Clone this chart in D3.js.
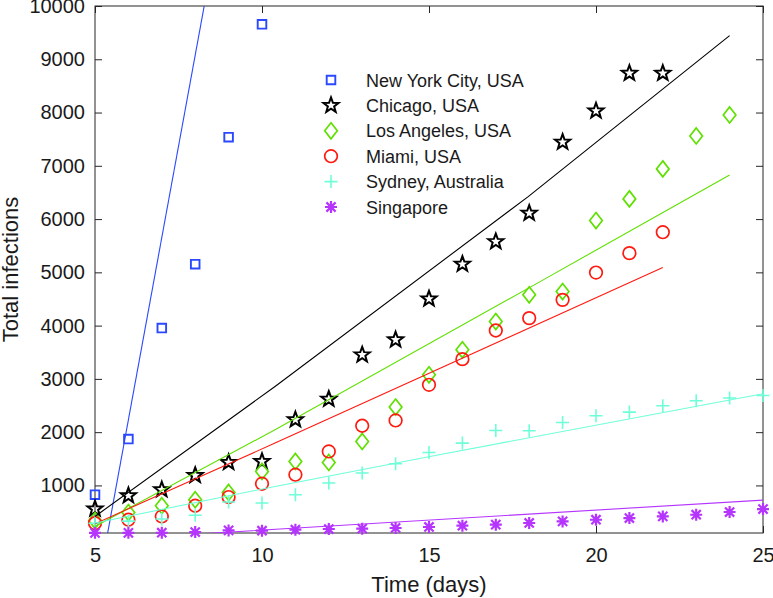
<!DOCTYPE html>
<html>
<head>
<meta charset="utf-8">
<script src="https://cdn.jsdelivr.net/npm/d3@7"></script>
<style>
  html, body { margin: 0; padding: 0; background: #fff; }
  svg { display: block; font-family: "Liberation Sans", Arial, sans-serif; }
</style>
</head>
<body>
<svg id="chart" width="773" height="598"></svg>
<script>
// ---------- data ----------
const seriesNames = ["New York City, USA", "Chicago, USA", "Los Angeles, USA", "Miami, USA", "Sydney, Australia", "Singapore"];

const nycDays = [5, 6, 7, 8, 9, 10];
const nycVals = [826, 1871, 3953, 5154, 7537, 9656];

const chiDays = [5, 6, 7, 8, 9, 10, 11, 12, 13, 14, 15, 16, 17, 18, 19, 20, 21, 22];
const chiVals = [560, 807, 919, 1188, 1432, 1450, 2233, 2621, 3452, 3734, 4503, 5154, 5578, 6111, 7443, 8030, 8737, 8737];

const laDays = [5, 6, 7, 8, 9, 10, 11, 12, 13, 14, 15, 16, 17, 18, 19, 20, 21, 22, 23, 24];
const laVals = [340, 490, 619, 732, 869, 1263, 1450, 1432, 1826, 2471, 3077, 3546, 4077, 4578, 4640, 5972, 6379, 6942, 7561, 7955];

const miaDays = [5, 6, 7, 8, 9, 10, 11, 12, 13, 14, 15, 16, 17, 18, 19, 20, 21, 22];
const miaVals = [290, 357, 418, 619, 782, 1032, 1201, 1638, 2120, 2220, 2889, 3371, 3908, 4141, 4484, 4996, 5360, 5754];

const sydDays = [5, 6, 7, 8, 9, 10, 11, 12, 13, 14, 15, 16, 17, 18, 19, 20, 21, 22, 23, 24, 25];
const sydVals = [290, 330, 370, 440, 690, 670, 826, 1045, 1233, 1407, 1619, 1795, 2032, 2026, 2182, 2308, 2377, 2495, 2589, 2640, 2689];

const sgpDays = [5, 6, 7, 8, 9, 10, 11, 12, 13, 14, 15, 16, 17, 18, 19, 20, 21, 22, 23, 24, 25];
const sgpVals = [110, 110, 112, 125, 156, 150, 169, 182, 188, 201, 220, 244, 263, 295, 325, 356, 388, 419, 450, 501, 557];

// fitted trend lines: [day, value] points
const nycFit = [[5, -1190], [9, 12500]];
const chiFit = [[5, 418], [10.39, 2857], [17.97, 6422], [24, 9443]];
const laFit  = [[5, 231], [10.39, 2045], [18.42, 4859], [24, 6829]];
const miaFit = [[5, 281], [10.39, 1795], [22, 5090]];
const sydFit = [[5, 295], [10.39, 981], [15.03, 1544], [25, 2720]];
const sgpFit = [[5, -30], [10.54, 182], [25, 725]];

const xTicks = [5, 10, 15, 20, 25];
const yTicks = [1000, 2000, 3000, 4000, 5000, 6000, 7000, 8000, 9000, 10000];
const xDomain = [5, 25];
const yDomain = [107, 10000];

const colors = ["#2a48ff", "#000000", "#5ee000", "#ff1a10", "#6effd8", "#b535ff"];
const markers = ["square", "star", "diamond", "circle", "plus", "asterisk"];

// ---------- layout ----------
const svg = d3.select("#chart");
const L = 95, R = 763, T = 6, B = 533;
const x = d3.scaleLinear().domain(xDomain).range([L, R]);
const y = d3.scaleLinear().domain(yDomain).range([B, T]);

function markerPath(type) {
  const p = d3.path();
  if (type === "square") {
    p.rect(-4.3, -4.3, 8.6, 8.6);
  } else if (type === "circle") {
    p.moveTo(6.3, 0); p.arc(0, 0, 6.3, 0, 2 * Math.PI); p.closePath();
  } else if (type === "diamond") {
    p.moveTo(0, -8); p.lineTo(6.3, 0); p.lineTo(0, 8); p.lineTo(-6.3, 0); p.closePath();
  } else if (type === "star") {
    const ro = 8, ri = 3.3;
    for (let i = 0; i < 10; i++) {
      const r = i % 2 === 0 ? ro : ri;
      const a = -Math.PI / 2 + i * Math.PI / 5;
      const px = r * Math.cos(a), py = r * Math.sin(a);
      if (i === 0) p.moveTo(px, py); else p.lineTo(px, py);
    }
    p.closePath();
  } else if (type === "plus") {
    p.moveTo(-6.5, 0); p.lineTo(6.5, 0); p.moveTo(0, -6.5); p.lineTo(0, 6.5);
  } else if (type === "asterisk") {
    const s = 6, d = 4.6;
    p.moveTo(-s, 0); p.lineTo(s, 0); p.moveTo(0, -s); p.lineTo(0, s);
    p.moveTo(-d, -d); p.lineTo(d, d); p.moveTo(-d, d); p.lineTo(d, -d);
  }
  return p.toString();
}
const markerStroke = { square: 1.9, circle: 1.7, diamond: 1.7, star: 2.0, plus: 1.6, asterisk: 2.2 };

// clip for fit lines
svg.append("defs").append("clipPath").attr("id", "plotclip")
  .append("rect").attr("x", L).attr("y", T).attr("width", R - L).attr("height", B - T);

// axes box
const axisColor = "#262626";
svg.append("rect").attr("x", L).attr("y", T).attr("width", R - L).attr("height", B - T)
  .attr("fill", "none").attr("stroke", axisColor).attr("stroke-width", 1);

// axes with inward ticks
const tickLen = 7;
const fontTick = 20;
const fmt = d3.format("d");
const gx = svg.append("g").attr("transform", `translate(0,${B})`)
  .call(d3.axisBottom(x).tickValues(xTicks).tickFormat(fmt).tickSizeInner(-tickLen).tickSizeOuter(0).tickPadding(tickLen + 8));
const gxTop = svg.append("g").attr("transform", `translate(0,${T})`)
  .call(d3.axisTop(x).tickValues(xTicks).tickSizeInner(-tickLen).tickSizeOuter(0).tickFormat(""));
const gy = svg.append("g").attr("transform", `translate(${L},0)`)
  .call(d3.axisLeft(y).tickValues(yTicks).tickFormat(fmt).tickSizeInner(-tickLen).tickSizeOuter(0).tickPadding(tickLen + 3));
const gyRight = svg.append("g").attr("transform", `translate(${R},0)`)
  .call(d3.axisRight(y).tickValues(yTicks).tickSizeInner(-tickLen).tickSizeOuter(0).tickFormat(""));
[gx, gxTop, gy, gyRight].forEach(g => {
  g.select(".domain").remove();
  g.selectAll(".tick line").attr("stroke", axisColor);
  g.selectAll(".tick text").attr("fill", "#1a1a1a").attr("font-size", fontTick)
    .attr("font-family", "Liberation Sans, Arial, sans-serif");
});

// axis labels
svg.append("text").attr("x", (L + R) / 2).attr("y", 592).attr("text-anchor", "middle")
  .attr("font-size", 22).attr("fill", "#1a1a1a").text("Time (days)");
svg.append("text").attr("transform", `translate(18,${(T + B) / 2}) rotate(-90)`)
  .attr("text-anchor", "middle").attr("font-size", 22).attr("fill", "#1a1a1a").text("Total infections");

// series
const series = [
  { days: nycDays, vals: nycVals, fit: nycFit },
  { days: chiDays, vals: chiVals, fit: chiFit },
  { days: laDays, vals: laVals, fit: laFit },
  { days: miaDays, vals: miaVals, fit: miaFit },
  { days: sydDays, vals: sydVals, fit: sydFit },
  { days: sgpDays, vals: sgpVals, fit: sgpFit }
];

const line = d3.line().x(d => x(d[0])).y(d => y(d[1]));

const plotG = svg.append("g");
series.forEach((s, i) => {
  const m = markers[i];
  plotG.append("g").selectAll("path")
    .data(s.days.map((d, k) => [d, s.vals[k]]))
    .join("path")
    .attr("transform", d => `translate(${x(d[0])},${y(d[1])})`)
    .attr("d", markerPath(m))
    .attr("fill", "none")
    .attr("stroke", colors[i])
    .attr("stroke-width", markerStroke[m])
    .attr("stroke-linejoin", "miter");
});
series.forEach((s, i) => {
  plotG.append("path")
    .datum(s.fit)
    .attr("clip-path", "url(#plotclip)")
    .attr("d", line)
    .attr("fill", "none")
    .attr("stroke", colors[i])
    .attr("stroke-width", 1.1);
});

// legend
const legX = 331, legTextX = 366, legY0 = 80, legDy = 25.4;
const leg = svg.append("g");
seriesNames.forEach((name, i) => {
  const cy = legY0 + i * legDy;
  leg.append("path")
    .attr("transform", `translate(${legX},${cy})`)
    .attr("d", markerPath(markers[i]))
    .attr("fill", "none")
    .attr("stroke", colors[i])
    .attr("stroke-width", markerStroke[markers[i]]);
  leg.append("text").attr("x", legTextX).attr("y", cy + 6.5)
    .attr("font-size", 18).attr("fill", "#1a1a1a").text(name);
});
</script>
</body>
</html>
